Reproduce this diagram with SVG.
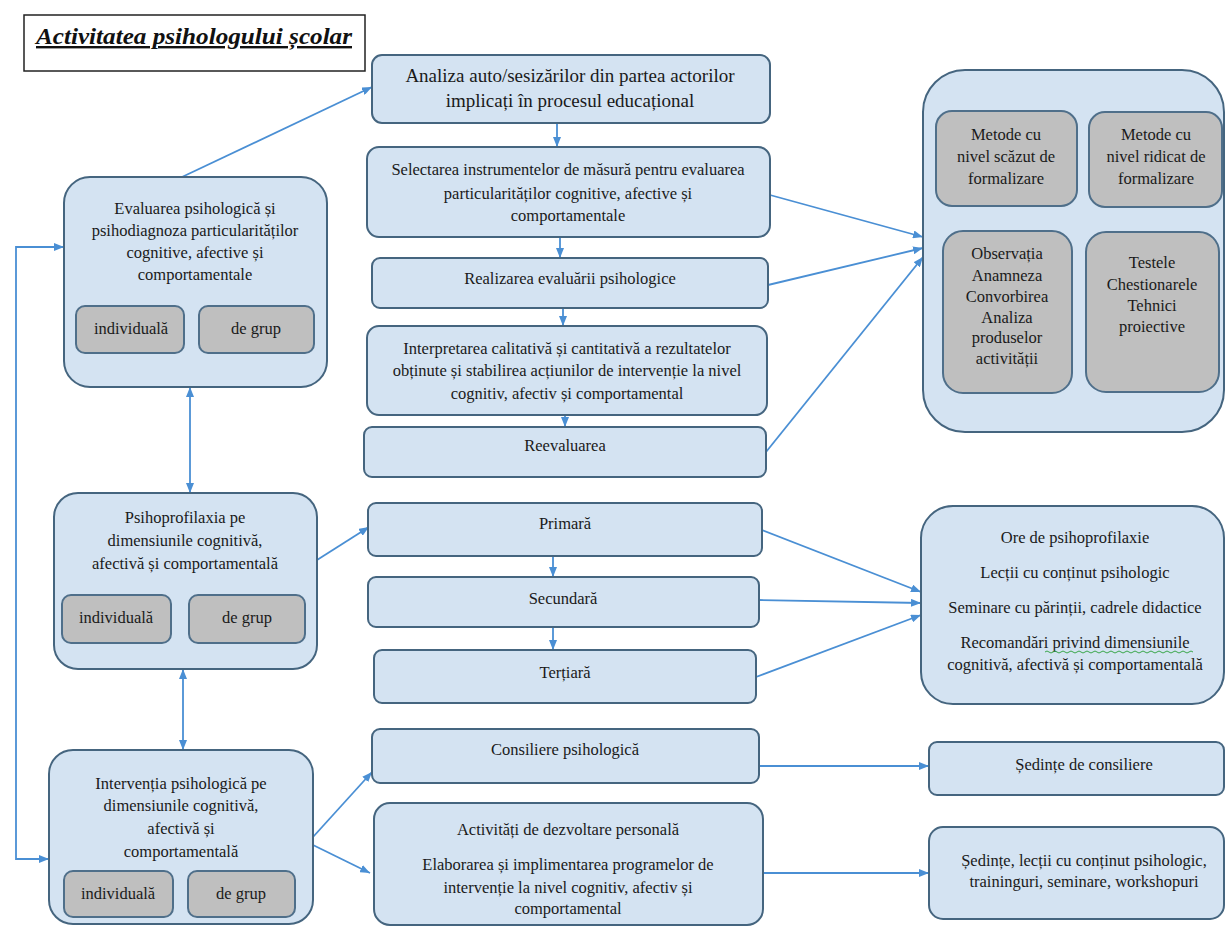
<svg xmlns="http://www.w3.org/2000/svg" width="1226" height="927" viewBox="0 0 1226 927">
<defs>
<style>
.bx{fill:#d4e3f2;stroke:#45657f;stroke-width:2}
.gr{fill:#bfbfbf;stroke:#4f6f8a;stroke-width:2}
.t{font-family:"Liberation Serif","DejaVu Serif","Noto Serif",serif;font-size:16.5px;fill:#1a1a1a;text-anchor:middle}
.big{font-size:19px}
.ln{fill:none;stroke:#4a8fd4;stroke-width:1.8}
</style>
<marker id="ah" viewBox="0 0 10 8" refX="10" refY="4" markerWidth="10" markerHeight="8" markerUnits="userSpaceOnUse" orient="auto-start-reverse">
<path d="M0,0 L10,4 L0,8 Z" fill="#4a8fd4"/>
</marker>
</defs>
<rect width="1226" height="927" fill="#ffffff"/>

<g id="title">
<rect x="24" y="15" width="341" height="56" fill="#ffffff" stroke="#222" stroke-width="1.5"/>
<text x="194" y="44" font-family="Liberation Serif, DejaVu Serif, serif" font-size="24" font-weight="bold" font-style="italic" text-decoration="underline" text-anchor="middle" textLength="316" lengthAdjust="spacingAndGlyphs" fill="#111">Activitatea psihologului școlar</text>
</g>

<g id="connectors">
<line class="ln" x1="182" y1="177" x2="372" y2="87" marker-end="url(#ah)"/>
<line class="ln" x1="557" y1="123" x2="557" y2="147" marker-end="url(#ah)"/>
<line class="ln" x1="560" y1="237" x2="560" y2="258" marker-end="url(#ah)"/>
<line class="ln" x1="563" y1="308" x2="563" y2="326" marker-end="url(#ah)"/>
<line class="ln" x1="565" y1="415" x2="565" y2="427" marker-end="url(#ah)"/>
<line class="ln" x1="770" y1="195" x2="923" y2="237" marker-end="url(#ah)"/>
<line class="ln" x1="768" y1="285" x2="923" y2="248" marker-end="url(#ah)"/>
<line class="ln" x1="766" y1="452" x2="923" y2="257" marker-end="url(#ah)"/>
<line class="ln" x1="190" y1="387" x2="190" y2="493" marker-start="url(#ah)" marker-end="url(#ah)"/>
<line class="ln" x1="183" y1="669" x2="183" y2="750" marker-start="url(#ah)" marker-end="url(#ah)"/>
<path class="ln" d="M64,247 H16 V859 H49" marker-start="url(#ah)" marker-end="url(#ah)"/>
<line class="ln" x1="317" y1="560" x2="369" y2="527" marker-end="url(#ah)"/>
<line class="ln" x1="553" y1="556" x2="553" y2="577" marker-end="url(#ah)"/>
<line class="ln" x1="553" y1="627" x2="553" y2="650" marker-end="url(#ah)"/>
<line class="ln" x1="762" y1="530" x2="921" y2="592" marker-end="url(#ah)"/>
<line class="ln" x1="759" y1="600" x2="921" y2="603" marker-end="url(#ah)"/>
<line class="ln" x1="756" y1="677" x2="921" y2="615" marker-end="url(#ah)"/>
<line class="ln" x1="313" y1="837" x2="372" y2="772" marker-end="url(#ah)"/>
<line class="ln" x1="313" y1="845" x2="370" y2="873" marker-end="url(#ah)"/>
<line class="ln" x1="759" y1="766" x2="929" y2="766" marker-end="url(#ah)"/>
<line class="ln" x1="763" y1="873" x2="929" y2="873" marker-end="url(#ah)"/>
</g>

<g id="analiza">
<rect class="bx" x="372" y="55" width="398" height="68" rx="10"/>
<text class="t big" x="570" y="82">Analiza auto/sesizărilor din partea actorilor</text>
<text class="t big" x="570" y="107">implicați în procesul educațional</text>
</g>
<g id="selectarea">
<rect class="bx" x="367" y="147" width="403" height="90" rx="12"/>
<text class="t" x="568" y="175">Selectarea  instrumentelor de măsură pentru  evaluarea</text>
<text class="t" x="568" y="199">particularităților  cognitive,  afective  și</text>
<text class="t" x="568" y="221">comportamentale</text>
</g>
<g id="realizarea">
<rect class="bx" x="372" y="258" width="396" height="50" rx="8"/>
<text class="t" x="570" y="284">Realizarea  evaluării  psihologice</text>
</g>
<g id="interpretarea">
<rect class="bx" x="367" y="326" width="400" height="89" rx="12"/>
<text class="t" x="567" y="354">Interpretarea  calitativă și cantitativă a rezultatelor</text>
<text class="t" x="567" y="376">obținute și stabilirea acțiunilor de intervenție  la nivel</text>
<text class="t" x="567" y="399">cognitiv, afectiv și comportamental</text>
</g>
<g id="reevaluarea">
<rect class="bx" x="364" y="427" width="402" height="50" rx="8"/>
<text class="t" x="565" y="451">Reevaluarea</text>
</g>

<g id="evaluarea">
<rect class="bx" x="64" y="177" width="263" height="210" rx="26"/>
<text class="t" x="195" y="214">Evaluarea psihologică și</text>
<text class="t" x="195" y="236">psihodiagnoza particularităților</text>
<text class="t" x="195" y="258">cognitive, afective și</text>
<text class="t" x="195" y="280">comportamentale</text>
<rect class="gr" x="76" y="306" width="108" height="47" rx="9"/>
<text class="t" x="131" y="334">individuală</text>
<rect class="gr" x="199" y="306" width="115" height="47" rx="9"/>
<text class="t" x="256" y="334">de grup</text>
</g>

<g id="psihoprofilaxia">
<rect class="bx" x="54" y="493" width="263" height="176" rx="24"/>
<text class="t" x="185" y="523">Psihoprofilaxia pe</text>
<text class="t" x="185" y="546">dimensiunile cognitivă,</text>
<text class="t" x="185" y="569">afectivă și comportamentală</text>
<rect class="gr" x="62" y="595" width="109" height="48" rx="9"/>
<text class="t" x="116" y="623">individuală</text>
<rect class="gr" x="189" y="595" width="116" height="48" rx="9"/>
<text class="t" x="247" y="623">de grup</text>
</g>

<g id="interventia">
<rect class="bx" x="49" y="750" width="264" height="174" rx="24"/>
<text class="t" x="181" y="789">Intervenția psihologică pe</text>
<text class="t" x="181" y="811">dimensiunile cognitivă,</text>
<text class="t" x="181" y="834">afectivă și</text>
<text class="t" x="181" y="857">comportamentală</text>
<rect class="gr" x="64" y="871" width="109" height="46" rx="9"/>
<text class="t" x="118" y="899">individuală</text>
<rect class="gr" x="188" y="871" width="107" height="46" rx="9"/>
<text class="t" x="241" y="899">de grup</text>
</g>

<g id="primara">
<rect class="bx" x="368" y="503" width="394" height="53" rx="8"/>
<text class="t" x="565" y="529">Primară</text>
</g>
<g id="secundara">
<rect class="bx" x="368" y="577" width="391" height="50" rx="8"/>
<text class="t" x="563" y="604">Secundară</text>
</g>
<g id="tertiara">
<rect class="bx" x="374" y="650" width="382" height="53" rx="8"/>
<text class="t" x="565" y="678">Terțiară</text>
</g>
<g id="consiliere">
<rect class="bx" x="372" y="729" width="387" height="54" rx="8"/>
<text class="t" x="565" y="755">Consiliere psihologică</text>
</g>
<g id="activitati">
<rect class="bx" x="374" y="803" width="389" height="122" rx="16"/>
<text class="t" x="568" y="835">Activități de dezvoltare  personală</text>
<text class="t" x="568" y="870">Elaborarea  și  implimentarea programelor  de</text>
<text class="t" x="568" y="893">intervenție la nivel cognitiv, afectiv și</text>
<text class="t" x="568" y="914">comportamental</text>
</g>

<g id="metode">
<rect class="bx" x="923" y="70" width="301" height="362" rx="42"/>
<rect class="gr" x="936" y="111" width="141" height="95" rx="16"/>
<text class="t" x="1006" y="140">Metode cu</text>
<text class="t" x="1006" y="162">nivel scăzut de</text>
<text class="t" x="1006" y="184">formalizare</text>
<rect class="gr" x="1089" y="112" width="133" height="95" rx="16"/>
<text class="t" x="1156" y="140">Metode cu</text>
<text class="t" x="1156" y="162">nivel ridicat de</text>
<text class="t" x="1156" y="184">formalizare</text>
<rect class="gr" x="943" y="231" width="129" height="162" rx="20"/>
<text class="t" x="1007" y="259">Observația</text>
<text class="t" x="1007" y="281">Anamneza</text>
<text class="t" x="1007" y="302">Convorbirea</text>
<text class="t" x="1007" y="323">Analiza</text>
<text class="t" x="1007" y="343">produselor</text>
<text class="t" x="1007" y="364">activității</text>
<rect class="gr" x="1086" y="232" width="133" height="160" rx="20"/>
<text class="t" x="1152" y="268">Testele</text>
<text class="t" x="1152" y="290">Chestionarele</text>
<text class="t" x="1152" y="311">Tehnici</text>
<text class="t" x="1152" y="332">proiective</text>
</g>

<g id="ore">
<rect class="bx" x="921" y="506" width="303" height="198" rx="32"/>
<text class="t" x="1075" y="543">Ore de psihoprofilaxie</text>
<text class="t" x="1075" y="578">Lecții cu conținut psihologic</text>
<text class="t" x="1075" y="613">Seminare cu părinții, cadrele  didactice</text>
<text class="t" x="1075" y="648">Recomandări privind  dimensiunile</text>
<text class="t" x="1075" y="670">cognitivă, afectivă și comportamentală</text>
<path d="M1045,652 q2,-2 4,0 t4,0 t4,0 t4,0 t4,0 t4,0 t4,0 t4,0 t4,0 t4,0 t4,0 t4,0 t4,0 t4,0 t4,0 t4,0 t4,0 t4,0 t4,0 t4,0 t4,0 t4,0 t4,0 t4,0 t4,0 t4,0 t4,0 t4,0 t4,0 t4,0 t4,0 t4,0 t4,0 t4,0 t4,0 t4,0 t4,0" fill="none" stroke="#3aa64a" stroke-width="1"/>
</g>

<g id="sedinte-consiliere">
<rect class="bx" x="929" y="742" width="295" height="53" rx="8"/>
<text class="t" x="1084" y="770">Ședințe de consiliere</text>
</g>
<g id="sedinte-lectii">
<rect class="bx" x="929" y="827" width="295" height="92" rx="14"/>
<text class="t" x="1084" y="866">Ședințe, lecții cu conținut psihologic,</text>
<text class="t" x="1084" y="887">traininguri, seminare, workshopuri</text>
</g>
</svg>
